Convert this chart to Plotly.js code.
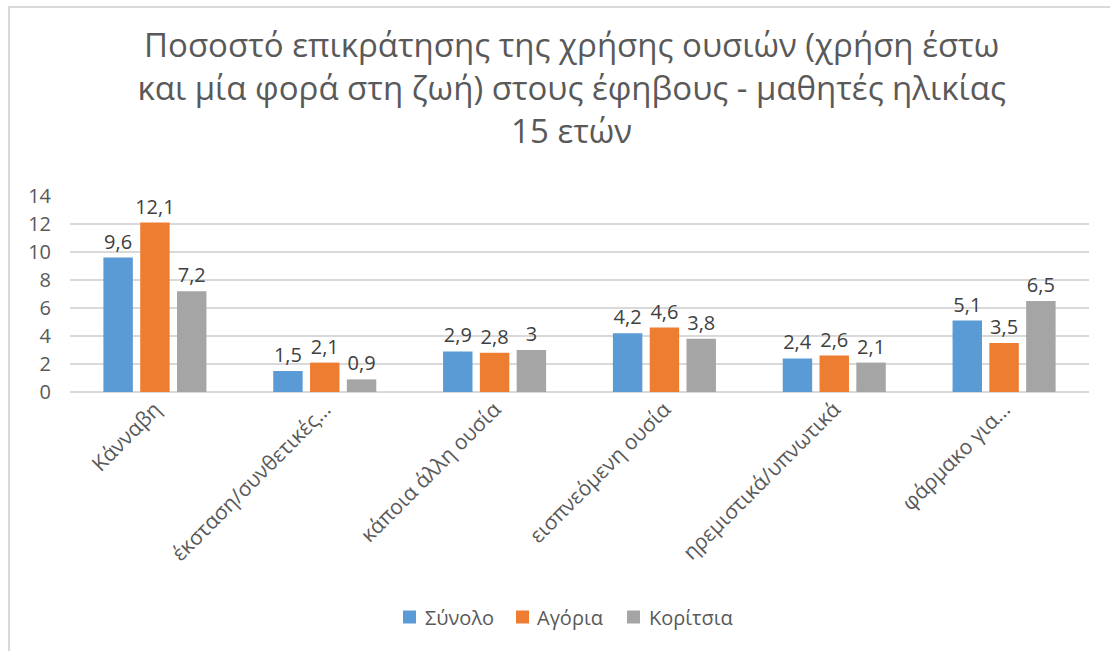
<!DOCTYPE html>
<html>
<head>
<meta charset="utf-8">
<script src="https://cdn.plot.ly/plotly-3.0.1.min.js"></script>
<style>
html,body{margin:0;padding:0;background:#fff;overflow:hidden;}
#frame{position:absolute;left:8px;top:6px;width:1300px;height:800px;border-left:2px solid #d9d9d9;border-top:2px solid #d9d9d9;}
#chart{position:absolute;left:0;top:0;width:1110px;height:651px;}
</style>
</head>
<body>
<div id="frame"></div>
<div id="chart"></div>
<script>
const categories = ["Κάνναβη", "έκσταση/συνθετικές…", "κάποια άλλη ουσία", "εισπνεόμενη ουσία", "ηρεμιστικά/υπνωτικά", "φάρμακο για…"];
const seriesNames = ["Σύνολο", "Αγόρια", "Κορίτσια"];
const total = [9.6, 1.5, 2.9, 4.2, 2.4, 5.1];
const boys = [12.1, 2.1, 2.8, 4.6, 2.6, 3.5];
const girls = [7.2, 0.9, 3, 3.8, 2.1, 6.5];
const colors = ["#5B9BD5", "#ED7D31", "#A5A5A5"];
const yTicks = [0, 2, 4, 6, 8, 10, 12, 14];

const fmt = v => String(v).replace('.', ',');
const font = "'Open Sans', 'Noto Sans', sans-serif";

// plot area geometry (pixels) used to place the custom legend
const M = {l: 70, r: 21, t: 196, b: 259};
const W = 1110, H = 651;
const plotW = W - M.l - M.r, plotH = H - M.t - M.b;
const px2x = p => (p - M.l) / plotW;
const py2y = p => (H - M.b - p) / plotH;
const legendSquareX = [403, 516, 627];
const legendTextX = [423, 535, 647];
const legendY = 617;

const traces = [total, boys, girls].map((vals, i) => ({
  type: 'bar',
  name: seriesNames[i],
  x: categories,
  y: vals,
  marker: {color: colors[i]},
  text: vals.map(fmt),
  textposition: 'outside',
  textfont: {family: font, size: 20, color: '#404040'},
  cliponaxis: false,
  constraintext: 'none',
  hoverinfo: 'x+y+name'
}));

const legendShapes = seriesNames.map((n, i) => ({
  type: 'rect', xref: 'paper', yref: 'paper',
  xsizemode: 'pixel', ysizemode: 'pixel',
  xanchor: px2x(legendSquareX[i]), yanchor: py2y(legendY),
  x0: 0, x1: 13, y0: -6.5, y1: 6.5,
  fillcolor: colors[i], line: {width: 0}
}));
const legendAnnotations = seriesNames.map((n, i) => ({
  text: n, xref: 'paper', yref: 'paper',
  x: px2x(legendTextX[i]), y: py2y(legendY),
  xanchor: 'left', yanchor: 'middle', showarrow: false,
  font: {family: font, size: 20, color: '#595959'}
}));

const layout = {
  width: W,
  height: H,
  paper_bgcolor: 'rgba(0,0,0,0)',
  plot_bgcolor: 'rgba(0,0,0,0)',
  margin: M,
  barmode: 'group',
  bargap: 0.35,
  bargroupgap: 0.2,
  title: {
    text: 'Ποσοστό επικράτησης της χρήσης ουσιών (χρήση έστω<br>και μία φορά στη ζωή) στους έφηβους - μαθητές ηλικίας<br>15 ετών',
    font: {family: font, size: 33, color: '#595959'},
    xref: 'container', x: 0.515, xanchor: 'center',
    yref: 'container', y: 0.912, yanchor: 'top'
  },
  xaxis: {
    type: 'category',
    tickangle: -45,
    tickfont: {family: font, size: 21, color: '#595959'},
    showgrid: false,
    showline: false,
    ticks: '',
    automargin: false
  },
  yaxis: {
    range: [0, 14],
    tickvals: yTicks,
    ticktext: yTicks.map(String),
    tickfont: {family: font, size: 20, color: '#595959'},
    showgrid: true,
    gridcolor: '#D9D9D9',
    gridwidth: 2,
    zeroline: true,
    zerolinecolor: '#D9D9D9',
    zerolinewidth: 2,
    showline: false,
    ticks: '',
    ticklabelstandoff: 18,
    automargin: false
  },
  shapes: legendShapes,
  annotations: legendAnnotations,
  showlegend: false
};

Plotly.newPlot('chart', traces, layout, {displayModeBar: false, staticPlot: true});
</script>
</body>
</html>
